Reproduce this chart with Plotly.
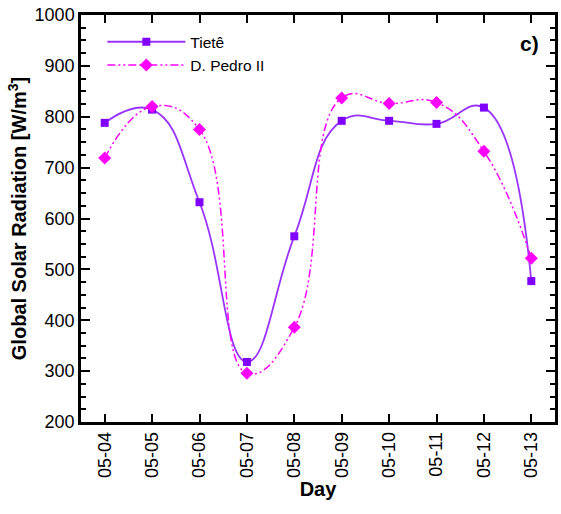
import plotly.graph_objects as go

days = ["05-04", "05-05", "05-06", "05-07", "05-08", "05-09", "05-10", "05-11", "05-12", "05-13"]
tiete = [788, 814, 632, 318, 565, 792, 792, 786, 818, 477]
pedro = [719, 820, 775, 296, 386, 837, 826, 828, 732, 522]

FONT = "Arial, Liberation Sans, sans-serif"

fig = go.Figure()
fig.add_trace(go.Scatter(
    x=days, y=tiete, name="Tietê", mode="lines+markers",
    line=dict(color="#9933FF", width=1.8, shape="spline", smoothing=1.3),
    marker=dict(symbol="square", size=8, color="#8000FF"),
))
fig.add_trace(go.Scatter(
    x=days, y=pedro, name="D. Pedro II", mode="lines+markers",
    line=dict(color="#FF00FF", width=1.5, shape="spline", smoothing=1.3,
              dash="8px,3px,2px,3px,2px,3px"),
    marker=dict(symbol="diamond", size=10, color="#FF00FF"),
))

fig.update_layout(
    width=561, height=514,
    margin=dict(l=81, r=3, t=15, b=92),
    paper_bgcolor="white", plot_bgcolor="white",
    font=dict(family=FONT, color="black"),
    showlegend=True,
    legend=dict(x=0.045, y=0.975, xanchor="left", yanchor="top",
                bgcolor="rgba(0,0,0,0)", font=dict(size=15.5, family=FONT),
                itemwidth=78, tracegroupgap=0),
    annotations=[dict(text="<b>c)</b>", x=0.97, y=0.93, xref="paper", yref="paper",
                      xanchor="right", yanchor="middle", showarrow=False,
                      font=dict(size=21, family=FONT))],
)
fig.update_xaxes(
    type="category", categoryorder="array", categoryarray=days,
    range=[-0.5, 9.5],
    showline=True, linewidth=2.5, linecolor="black", mirror="ticks",
    ticks="inside", ticklen=8, tickwidth=2, tickcolor="black",
    tickangle=-90, tickfont=dict(size=18, family=FONT),
    showgrid=False, zeroline=False,
    title=dict(text="<b>Day</b>", font=dict(size=20, family=FONT), standoff=4),
)
fig.update_yaxes(
    range=[200, 1000], dtick=100, tick0=200,
    showline=True, linewidth=2.5, linecolor="black", mirror="ticks",
    ticks="inside", ticklen=9, tickwidth=2, tickcolor="black",
    tickfont=dict(size=18, family=FONT),
    minor=dict(dtick=25, ticks="inside", ticklen=5, tickwidth=1.5, tickcolor="black"),
    showgrid=False, zeroline=False,
    title=dict(text="<b>Global Solar Radiation [W/m<sup>3</sup>]</b>",
               font=dict(size=20, family=FONT), standoff=3),
)

fig.write_html("out.html")
